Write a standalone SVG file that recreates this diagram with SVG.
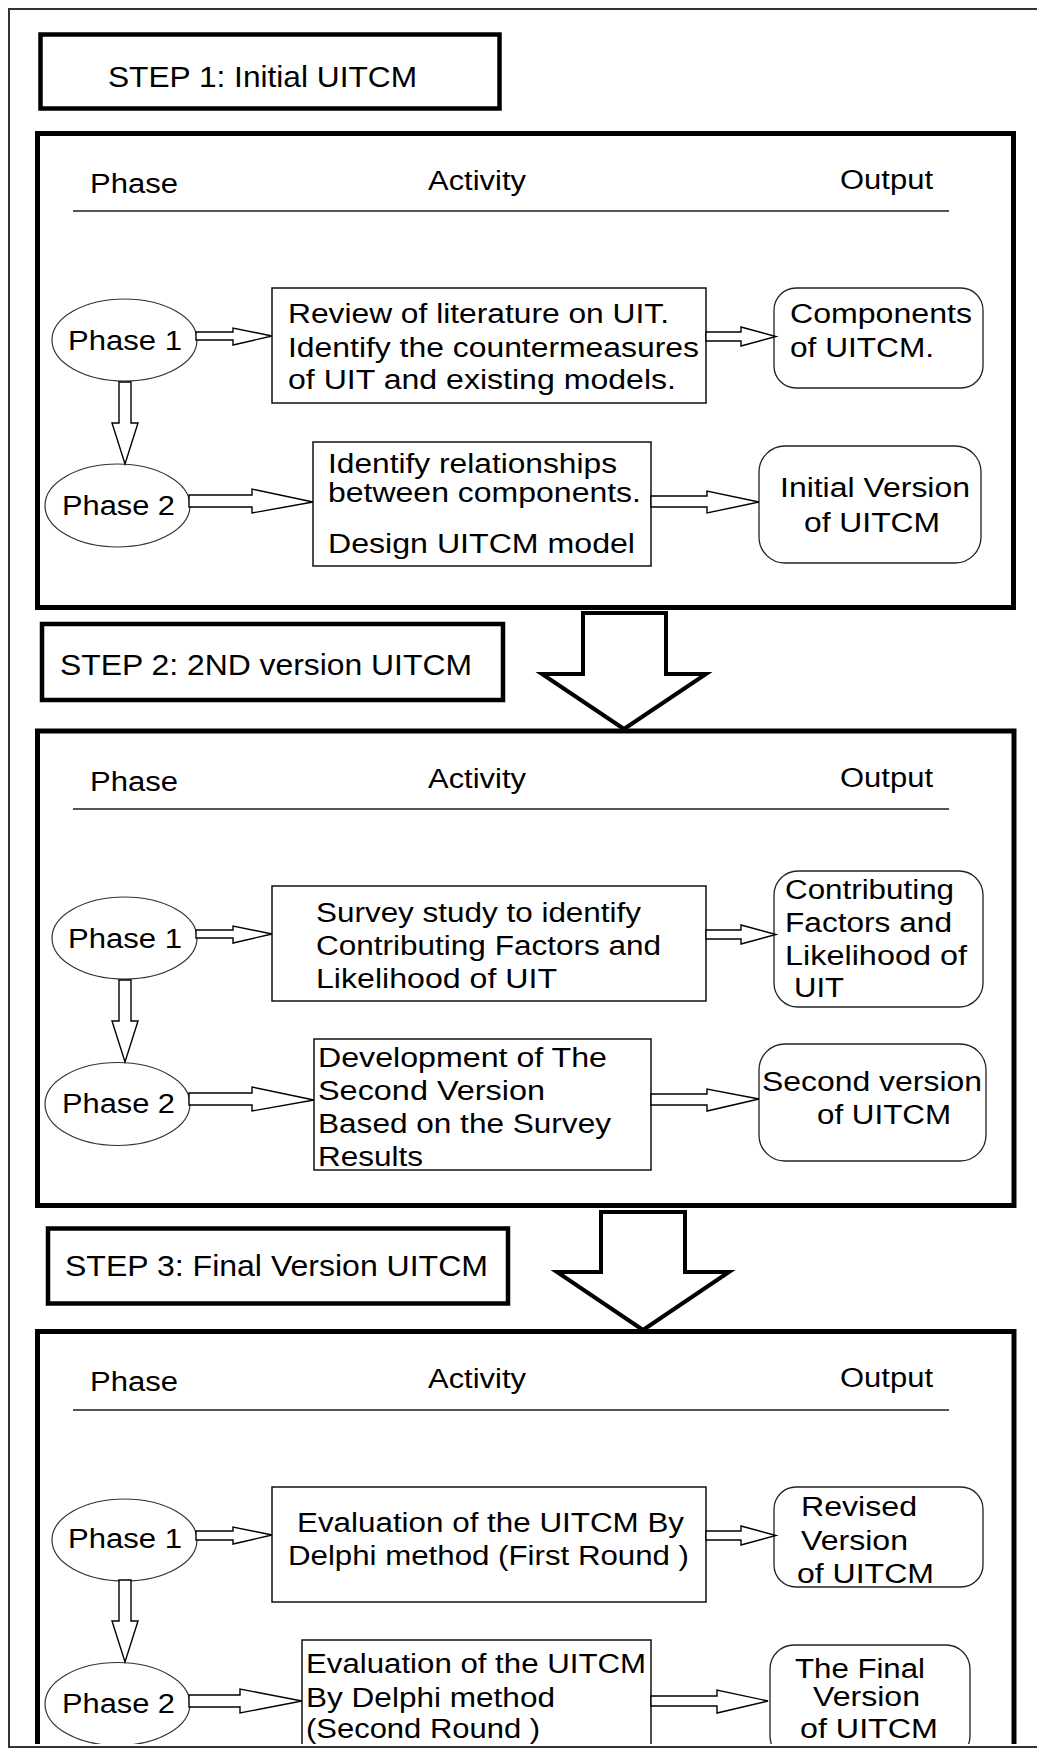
<svg xmlns="http://www.w3.org/2000/svg" width="1037" height="1749" viewBox="0 0 1037 1749">
<style>
text{font-family:"Liberation Sans",Arial,sans-serif;fill:#000}
.t{font-size:27px}
.h{font-size:27px}
.s{font-size:29px}
.box{fill:#fff;stroke:#111;stroke-width:1.5}
.out{fill:#fff;stroke:#222;stroke-width:1.3}
.ell{fill:#fff;stroke:#333;stroke-width:1.2}
.arr{fill:#fff;stroke:#000;stroke-width:1.4;stroke-linejoin:miter}
.big{fill:none;stroke:#000;stroke-width:5}
.lbl{fill:#fff;stroke:#000;stroke-width:4.5}
.barr{fill:#fff;stroke:#000;stroke-width:4;stroke-linejoin:miter}
.hl{stroke:#555;stroke-width:2}
</style>
<defs>
<clipPath id="clip"><rect x="0" y="0" width="1037" height="1744"/></clipPath>
</defs>
<rect x="0" y="0" width="1037" height="1749" fill="#fff"/>
<rect x="9" y="9" width="1040" height="1738" fill="none" stroke="#333" stroke-width="2"/>
<g clip-path="url(#clip)">

<!-- STEP 1 -->
<g id="step1-label">
<rect class="lbl" x="40.5" y="34.5" width="459" height="74"/>
<text class="s" x="108" y="87" textLength="309" lengthAdjust="spacingAndGlyphs">STEP 1: Initial UITCM</text>
</g>
<g id="step1-frame">
<rect class="big" x="37.5" y="133.5" width="976" height="474"/>
<text class="h" x="90" y="193" textLength="88" lengthAdjust="spacingAndGlyphs">Phase</text>
<text class="h" x="428" y="190" textLength="98" lengthAdjust="spacingAndGlyphs">Activity</text>
<text class="h" x="840" y="189" textLength="93" lengthAdjust="spacingAndGlyphs">Output</text>
<line class="hl" x1="73" y1="211" x2="949" y2="211"/>
</g>
<g id="s1-phase1">
<ellipse class="ell" cx="124.5" cy="340" rx="72.5" ry="41"/>
<text class="t" x="68" y="350" textLength="114" lengthAdjust="spacingAndGlyphs">Phase 1</text>
</g>
<g id="s1-phase2">
<ellipse class="ell" cx="117.5" cy="505.5" rx="72.5" ry="41.5"/>
<text class="t" x="62" y="515" textLength="113" lengthAdjust="spacingAndGlyphs">Phase 2</text>
</g>
<g id="s1-activity1">
<rect class="box" x="272" y="288" width="434" height="115"/>
<text class="t" x="288" y="323" textLength="381" lengthAdjust="spacingAndGlyphs">Review of literature on UIT.</text>
<text class="t" x="288" y="357" textLength="411" lengthAdjust="spacingAndGlyphs">Identify the countermeasures</text>
<text class="t" x="288" y="389" textLength="388" lengthAdjust="spacingAndGlyphs">of UIT and existing models.</text>
</g>
<g id="s1-output1">
<rect class="out" x="774" y="288" width="209" height="100" rx="22"/>
<text class="t" x="790" y="323" textLength="182" lengthAdjust="spacingAndGlyphs">Components</text>
<text class="t" x="790" y="357" textLength="144" lengthAdjust="spacingAndGlyphs">of UITCM.</text>
</g>
<g id="s1-activity2">
<rect class="box" x="313" y="442" width="338" height="124"/>
<text class="t" x="328" y="473" textLength="289" lengthAdjust="spacingAndGlyphs">Identify relationships</text>
<text class="t" x="328" y="502" textLength="313" lengthAdjust="spacingAndGlyphs">between components.</text>
<text class="t" x="328" y="553" textLength="307" lengthAdjust="spacingAndGlyphs">Design UITCM model</text>
</g>
<g id="s1-output2">
<rect class="out" x="759" y="446" width="222" height="117" rx="26"/>
<text class="t" x="780" y="497" textLength="190" lengthAdjust="spacingAndGlyphs">Initial Version</text>
<text class="t" x="804" y="532" textLength="136" lengthAdjust="spacingAndGlyphs">of UITCM</text>
</g>

<!-- STEP 2 -->
<g id="step2-label">
<rect class="lbl" x="42" y="624" width="461" height="76"/>
<text class="s" x="60" y="675" textLength="412" lengthAdjust="spacingAndGlyphs">STEP 2: 2ND version UITCM</text>
</g>
<g id="step2-frame">
<rect class="big" x="37.5" y="731" width="976.5" height="474.5"/>
<text class="h" x="90" y="791" textLength="88" lengthAdjust="spacingAndGlyphs">Phase</text>
<text class="h" x="428" y="788" textLength="98" lengthAdjust="spacingAndGlyphs">Activity</text>
<text class="h" x="840" y="787" textLength="93" lengthAdjust="spacingAndGlyphs">Output</text>
<line class="hl" x1="73" y1="809" x2="949" y2="809"/>
</g>
<g id="s2-phase1">
<ellipse class="ell" cx="124.5" cy="938" rx="72.5" ry="41"/>
<text class="t" x="68" y="948" textLength="114" lengthAdjust="spacingAndGlyphs">Phase 1</text>
</g>
<g id="s2-phase2">
<ellipse class="ell" cx="117.5" cy="1104" rx="72.5" ry="41.5"/>
<text class="t" x="62" y="1113" textLength="113" lengthAdjust="spacingAndGlyphs">Phase 2</text>
</g>
<g id="s2-activity1">
<rect class="box" x="272" y="886" width="434" height="115"/>
<text class="t" x="316" y="922" textLength="325" lengthAdjust="spacingAndGlyphs">Survey study to identify</text>
<text class="t" x="316" y="955" textLength="345" lengthAdjust="spacingAndGlyphs">Contributing Factors and</text>
<text class="t" x="316" y="988" textLength="241" lengthAdjust="spacingAndGlyphs">Likelihood of UIT</text>
</g>
<g id="s2-output1">
<rect class="out" x="774" y="871" width="209" height="136" rx="24"/>
<text class="t" x="785" y="899" textLength="169" lengthAdjust="spacingAndGlyphs">Contributing</text>
<text class="t" x="785" y="932" textLength="167" lengthAdjust="spacingAndGlyphs">Factors and</text>
<text class="t" x="785" y="965" textLength="182" lengthAdjust="spacingAndGlyphs">Likelihood of</text>
<text class="t" x="794" y="997" textLength="50" lengthAdjust="spacingAndGlyphs">UIT</text>
</g>
<g id="s2-activity2">
<rect class="box" x="314" y="1039" width="337" height="131"/>
<text class="t" x="318" y="1067" textLength="289" lengthAdjust="spacingAndGlyphs">Development of The</text>
<text class="t" x="318" y="1100" textLength="227" lengthAdjust="spacingAndGlyphs">Second Version</text>
<text class="t" x="318" y="1133" textLength="293" lengthAdjust="spacingAndGlyphs">Based on the Survey</text>
<text class="t" x="318" y="1166" textLength="105" lengthAdjust="spacingAndGlyphs">Results</text>
</g>
<g id="s2-output2">
<rect class="out" x="759" y="1044" width="227" height="117" rx="26"/>
<text class="t" x="762" y="1091" textLength="220" lengthAdjust="spacingAndGlyphs">Second version</text>
<text class="t" x="817" y="1124" textLength="134" lengthAdjust="spacingAndGlyphs">of UITCM</text>
</g>

<!-- STEP 3 -->
<g id="step3-label">
<rect class="lbl" x="48" y="1228.5" width="460" height="75"/>
<text class="s" x="65" y="1276" textLength="423" lengthAdjust="spacingAndGlyphs">STEP 3: Final Version UITCM</text>
</g>
<g id="step3-frame">
<rect class="big" x="37.5" y="1331.5" width="976.5" height="474"/>
<text class="h" x="90" y="1391" textLength="88" lengthAdjust="spacingAndGlyphs">Phase</text>
<text class="h" x="428" y="1388" textLength="98" lengthAdjust="spacingAndGlyphs">Activity</text>
<text class="h" x="840" y="1387" textLength="93" lengthAdjust="spacingAndGlyphs">Output</text>
<line class="hl" x1="73" y1="1410" x2="949" y2="1410"/>
</g>
<g id="s3-phase1">
<ellipse class="ell" cx="124.5" cy="1540" rx="72.5" ry="41"/>
<text class="t" x="68" y="1548" textLength="114" lengthAdjust="spacingAndGlyphs">Phase 1</text>
</g>
<g id="s3-phase2">
<ellipse class="ell" cx="117.5" cy="1704" rx="72.5" ry="41.5"/>
<text class="t" x="62" y="1713" textLength="113" lengthAdjust="spacingAndGlyphs">Phase 2</text>
</g>
<g id="s3-activity1">
<rect class="box" x="272" y="1487" width="434" height="115"/>
<text class="t" x="297" y="1532" textLength="387" lengthAdjust="spacingAndGlyphs">Evaluation of the UITCM By</text>
<text class="t" x="288" y="1565" textLength="401" lengthAdjust="spacingAndGlyphs">Delphi method (First Round )</text>
</g>
<g id="s3-output1">
<rect class="out" x="774" y="1487" width="209" height="100" rx="22"/>
<text class="t" x="801" y="1516" textLength="116" lengthAdjust="spacingAndGlyphs">Revised</text>
<text class="t" x="801" y="1550" textLength="107" lengthAdjust="spacingAndGlyphs">Version</text>
<text class="t" x="797" y="1583" textLength="137" lengthAdjust="spacingAndGlyphs">of UITCM</text>
</g>
<g id="s3-activity2">
<rect class="box" x="302" y="1640" width="349" height="140"/>
<text class="t" x="306" y="1673" textLength="340" lengthAdjust="spacingAndGlyphs">Evaluation of the UITCM</text>
<text class="t" x="306" y="1707" textLength="249" lengthAdjust="spacingAndGlyphs">By Delphi method</text>
<text class="t" x="306" y="1738" textLength="234" lengthAdjust="spacingAndGlyphs">(Second Round )</text>
</g>
<g id="s3-output2">
<rect class="out" x="770" y="1645" width="200" height="115" rx="24"/>
<text class="t" x="795" y="1678" textLength="130" lengthAdjust="spacingAndGlyphs">The Final</text>
<text class="t" x="813" y="1706" textLength="107" lengthAdjust="spacingAndGlyphs">Version</text>
<text class="t" x="800" y="1738" textLength="138" lengthAdjust="spacingAndGlyphs">of UITCM</text>
</g>

<g id="connectors">
<!-- step 1 -->
<polygon class="arr" points="196,332 233,332 233,328 272,336 233,345 233,340 196,340"/>
<polygon class="arr" points="706,332 741,332 741,327 776,336.5 741,346 741,341 706,341"/>
<polygon class="arr" points="189,495 252,495 252,489 313,502 252,513 252,507 189,507"/>
<polygon class="arr" points="651,496 707,496 707,491 759,502 707,513 707,507 651,507"/>
<polygon class="arr" points="119,382 131,382 131,423 138,423 125,464 112,423 119,423"/>
<!-- step 2 -->
<polygon class="arr" points="196,930 233,930 233,926 272,934 233,943 233,938 196,938"/>
<polygon class="arr" points="706,930 741,930 741,925 776,934.5 741,944 741,939 706,939"/>
<polygon class="arr" points="189,1093 252,1093 252,1087 314,1100 252,1111 252,1105 189,1105"/>
<polygon class="arr" points="651,1094 707,1094 707,1089 759,1099 707,1111 707,1105 651,1105"/>
<polygon class="arr" points="119,980 131,980 131,1021 138,1021 125,1062 112,1021 119,1021"/>
<!-- step 3 -->
<polygon class="arr" points="196,1531 233,1531 233,1527 272,1535 233,1544 233,1540 196,1540"/>
<polygon class="arr" points="706,1531 741,1531 741,1526 776,1535.5 741,1545 741,1540 706,1540"/>
<polygon class="arr" points="189,1695 240,1695 240,1689 302,1701 240,1713 240,1707 189,1707"/>
<polygon class="arr" points="651,1696 717,1696 717,1690 768,1701 717,1713 717,1706 651,1706"/>
<polygon class="arr" points="119,1580 131,1580 131,1621 138,1621 125,1662 112,1621 119,1621"/>
<!-- step transitions -->
<polygon class="barr" points="583,613 666,613 666,674 706,674 624,729 542,674 583,674"/>
<polygon class="barr" points="601,1212 685,1212 685,1272 729,1272 643,1330 557,1272 601,1272"/>
</g>
</g>
</svg>
